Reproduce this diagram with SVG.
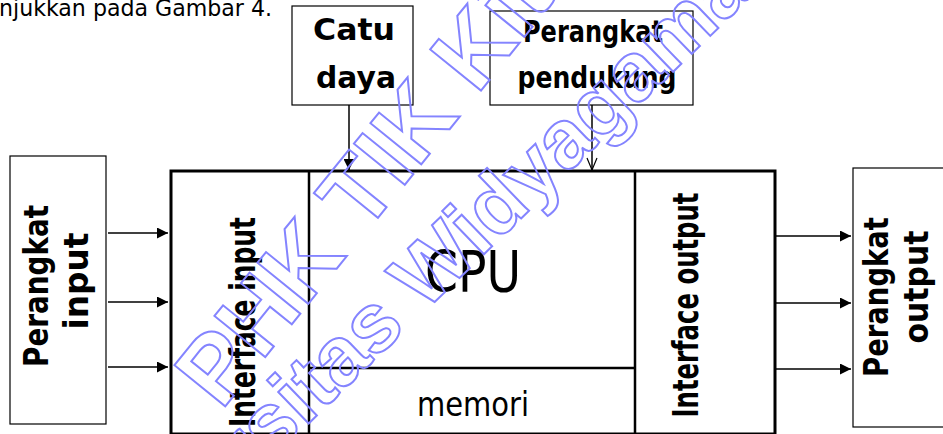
<svg xmlns="http://www.w3.org/2000/svg" width="943" height="434" viewBox="0 0 943 434">
<defs>
<style>
.thin{fill:#fff;stroke:#000;stroke-width:1.2}
.thick{fill:none;stroke:#000;stroke-width:3}
.div{fill:none;stroke:#000;stroke-width:2.5}
.lbl{font-family:"DejaVu Sans",sans-serif;font-weight:bold;fill:#000}
.reg{font-family:"DejaVu Sans Condensed","DejaVu Sans",sans-serif;fill:#000}
.wm{font-family:"Liberation Sans",Arial,sans-serif;font-weight:bold;fill:none;stroke:#8484ff;stroke-width:2}
.con{fill:none;stroke:#000;stroke-width:1.5}
</style>
<marker id="ah" viewBox="0 0 10 10" refX="10" refY="5" markerWidth="13" markerHeight="11" markerUnits="userSpaceOnUse" orient="auto">
<path d="M0,0 L10,5 L0,10 z" fill="#000"/>
</marker>
</defs>
<rect width="943" height="434" fill="#fff"/>
<text x="-1" y="16" class="reg" font-size="23" textLength="273" lengthAdjust="spacingAndGlyphs">njukkan pada Gambar 4.</text>

<g id="catu-daya">
<rect class="thin" x="292" y="6" width="121" height="99"/>
<text class="lbl" x="354" y="40" font-size="30" text-anchor="middle" textLength="82" lengthAdjust="spacingAndGlyphs">Catu</text>
<text class="lbl" x="356" y="88" font-size="30" text-anchor="middle" textLength="80" lengthAdjust="spacingAndGlyphs">daya</text>
</g>
<g id="perangkat-pendukung">
<rect class="thin" x="490" y="11" width="203" height="94"/>
<text class="lbl" x="593" y="42" font-size="30" text-anchor="middle" textLength="140" lengthAdjust="spacingAndGlyphs">Perangkat</text>
<text class="lbl" x="597" y="88" font-size="30" text-anchor="middle" textLength="159" lengthAdjust="spacingAndGlyphs">pendukung</text>
</g>
<g id="perangkat-input">
<rect class="thin" x="10" y="156" width="96" height="268"/>
<text class="lbl" transform="translate(48,286) rotate(-90)" font-size="34" text-anchor="middle" textLength="162" lengthAdjust="spacingAndGlyphs">Perangkat</text>
<text class="lbl" transform="translate(88,281) rotate(-90)" font-size="34" text-anchor="middle" textLength="97" lengthAdjust="spacingAndGlyphs">input</text>
</g>
<g id="main">
<rect class="thick" x="171" y="171" width="604" height="263"/>
<line class="div" x1="309" y1="171" x2="309" y2="434"/>
<line class="div" x1="635" y1="171" x2="635" y2="434"/>
<line class="div" x1="309" y1="368" x2="635" y2="368"/>
</g>
<g id="interface-input">
<text class="lbl" transform="translate(255,322) rotate(-90)" font-size="36" text-anchor="middle" textLength="210" lengthAdjust="spacingAndGlyphs">Interface input</text>
</g>
<g id="cpu">
<text class="reg" x="473" y="292" font-size="57" text-anchor="middle" textLength="96" lengthAdjust="spacingAndGlyphs">CPU</text>
</g>
<g id="memori">
<text class="reg" x="473" y="416" font-size="33" text-anchor="middle" textLength="112" lengthAdjust="spacingAndGlyphs">memori</text>
</g>
<g id="interface-output">
<text class="lbl" transform="translate(698,305) rotate(-90)" font-size="36" text-anchor="middle" textLength="225" lengthAdjust="spacingAndGlyphs">Interface output</text>
</g>
<g id="perangkat-output">
<rect class="thin" x="853" y="168" width="100" height="259"/>
<text class="lbl" transform="translate(888,297) rotate(-90)" font-size="34" text-anchor="middle" textLength="160" lengthAdjust="spacingAndGlyphs">Perangkat</text>
<text class="lbl" transform="translate(928,287) rotate(-90)" font-size="34" text-anchor="middle" textLength="113" lengthAdjust="spacingAndGlyphs">output</text>
</g>

<g id="connectors">
<line class="con" x1="349" y1="105" x2="349" y2="170" marker-end="url(#ah)"/>
<line class="con" x1="592" y1="105" x2="592" y2="170" stroke-width="1"/>
<path d="M587,158 L592,170 L597,158" fill="none" stroke="#000" stroke-width="1.2"/>
<line class="con" x1="108" y1="233" x2="168" y2="233" marker-end="url(#ah)"/>
<line class="con" x1="108" y1="302" x2="168" y2="302" marker-end="url(#ah)"/>
<line class="con" x1="108" y1="367" x2="168" y2="367" marker-end="url(#ah)"/>
<line class="con" x1="776" y1="236" x2="851" y2="236" stroke-width="2.5" marker-end="url(#ah)"/>
<line class="con" x1="776" y1="303" x2="851" y2="303" marker-end="url(#ah)"/>
<line class="con" x1="776" y1="369" x2="851" y2="369" marker-end="url(#ah)"/>
</g>

<g id="watermark">
<text class="wm" transform="translate(215,365) rotate(-51)" x="-32" y="34" font-size="95">PHK TIK Kita</text>
<text class="wm" transform="translate(292,398) rotate(-44)" x="-316" y="30" font-size="83">Universitas Widyagama</text>
</g>
</svg>
